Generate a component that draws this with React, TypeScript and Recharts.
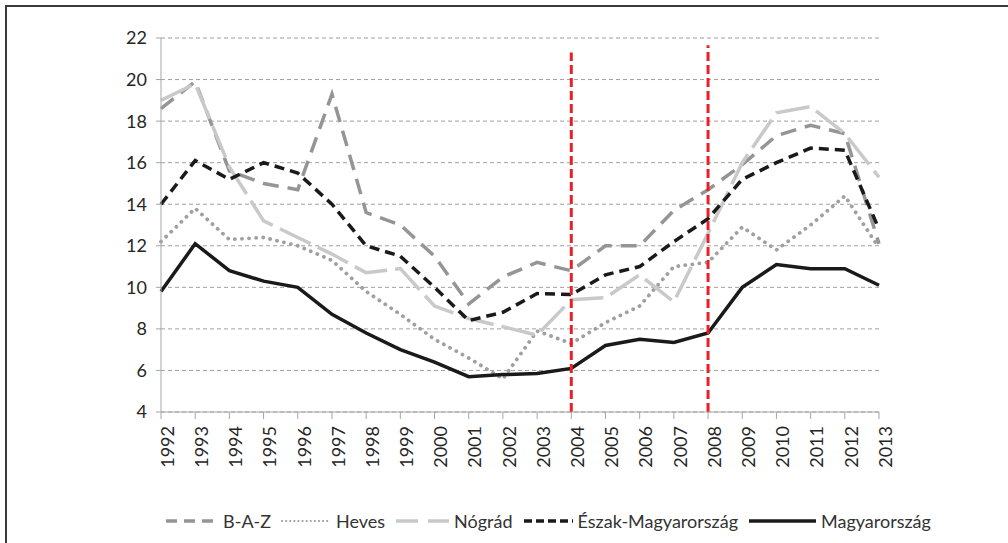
import { LineChart, Line, XAxis, YAxis, CartesianGrid, Legend, ReferenceLine } from 'recharts';

// years on the x axis
const years = [
  '1992', '1993', '1994', '1995', '1996', '1997', '1998', '1999', '2000', '2001', '2002',
  '2003', '2004', '2005', '2006', '2007', '2008', '2009', '2010', '2011', '2012', '2013',
];

const baz = [18.6, 19.9, 15.6, 15.0, 14.7, 19.3, 13.6, 13.0, 11.5, 9.2, 10.5, 11.2, 10.8, 12.0, 12.0, 13.7, 14.7, 15.9, 17.3, 17.8, 17.4, 12.1];
const heves = [12.2, 13.8, 12.3, 12.4, 12.0, 11.3, 9.8, 8.7, 7.5, 6.6, 5.6, 7.9, 7.3, 8.3, 9.1, 11.0, 11.2, 12.9, 11.8, 13.0, 14.4, 11.9];
const nograd = [19.0, 19.8, 15.8, 13.2, 12.4, 11.6, 10.7, 10.9, 9.1, 8.5, 8.1, 7.7, 9.4, 9.5, 10.6, 9.3, 12.6, 16.0, 18.4, 18.7, 17.4, 15.3];
const eszak = [14.0, 16.1, 15.2, 16.0, 15.5, 14.0, 12.0, 11.5, 10.0, 8.4, 8.8, 9.7, 9.65, 10.6, 11.0, 12.2, 13.3, 15.2, 16.0, 16.7, 16.6, 12.8];
const magyar = [9.8, 12.1, 10.8, 10.3, 10.0, 8.7, 7.8, 7.0, 6.4, 5.7, 5.8, 5.85, 6.1, 7.2, 7.5, 7.35, 7.8, 10.0, 11.1, 10.9, 10.9, 10.1];

const yTicks = [4, 6, 8, 10, 12, 14, 16, 18, 20, 22];

// series styling (chart line + legend sample)
const series = [
  { key: 'B-A-Z', stroke: '#959595', width: 3.5, dash: '16 9', cap: 'butt', legendDash: '11 7', legendW: 55 },
  { key: 'Heves', stroke: '#a0a0a0', width: 3.8, dash: '0.1 7', cap: 'round', legendDash: '0.1 4', legendW: 52 },
  { key: 'Nógrád', stroke: '#c9c9c9', width: 3.5, dash: '34 8', cap: 'butt', legendDash: '22 10', legendW: 56 },
  { key: 'Észak-Magyarország', stroke: '#1a1a1a', width: 3.5, dash: '10 6', cap: 'butt', legendDash: '8 4', legendW: 52 },
  { key: 'Magyarország', stroke: '#1a1a1a', width: 3.5, dash: undefined, cap: 'butt', legendDash: undefined, legendW: 70 },
];

const chartData = years.map((year, i) => ({
  year,
  'B-A-Z': baz[i],
  'Heves': heves[i],
  'Nógrád': nograd[i],
  'Észak-Magyarország': eszak[i],
  'Magyarország': magyar[i],
}));

const font = 'Lato, "Open Sans", sans-serif';

function LegendContent() {
  return (
    <div style={{ display: 'flex', justifyContent: 'center', alignItems: 'center', whiteSpace: 'nowrap', height: 24, fontFamily: font, fontSize: 18, color: '#333', paddingLeft: 96 }}>
      {series.map((s) => (
        <div key={s.key} style={{ display: 'flex', alignItems: 'center', marginRight: 9 }}>
          <svg width={s.legendW} height={10} style={{ marginRight: 4 }}>
            <line
              x1={2}
              y1={5}
              x2={s.legendW - 1}
              y2={5}
              stroke={s.stroke}
              strokeWidth={s.key === 'Heves' ? 2.2 : 3.5}
              strokeDasharray={s.legendDash}
              strokeLinecap={s.cap as any}
            />
          </svg>
          <span>{s.key}</span>
        </div>
      ))}
    </div>
  );
}

export default function App() {
  return (
    <div style={{ position: 'absolute', left: 0, top: 0, width: 1008, height: 543, overflow: 'hidden', background: '#fff' }}>
      <div style={{ position: 'absolute', left: 5, top: 5, width: 1020, height: 560, borderTop: '2px solid #3a3a3a', borderLeft: '2px solid #3a3a3a' }} />
      <div style={{ position: 'absolute', left: 0, top: 0 }}>
        <LineChart width={1008} height={543} data={chartData} margin={{ top: 38, right: 129, left: 121, bottom: 45 }}>
          <CartesianGrid vertical={false} stroke="#a0a0a0" strokeDasharray="4 3" />
          <XAxis
            dataKey="year"
            interval={0}
            height={62}
            stroke="#a6a6a6"
            tickSize={7}
            angle={-90}
            textAnchor="end"
            verticalAnchor="middle"
            dy={5}
            tick={{ fill: '#262626', fontSize: 18, fontFamily: font }}
          />
          <YAxis
            domain={[4, 22]}
            ticks={yTicks}
            width={40}
            stroke="#a6a6a6"
            tickSize={5}
            tickMargin={9}
            tick={{ fill: '#262626', fontSize: 18, fontFamily: font }}
          />
          <Legend
            verticalAlign="bottom"
            content={<LegendContent />}
            wrapperStyle={{ left: 0, width: 1008, height: 24, bottom: 10 }}
          />
          {series.map((s) => (
            <Line
              key={s.key}
              type="linear"
              dataKey={s.key}
              stroke={s.stroke}
              strokeWidth={s.width}
              strokeDasharray={s.dash}
              strokeLinecap={s.cap as any}
              dot={false}
              isAnimationActive={false}
            />
          ))}
          <ReferenceLine
            segment={[{ x: '2004', y: 4 }, { x: '2004', y: 21.3 }]}
            stroke="#e8202a"
            strokeWidth={3}
            strokeDasharray="9 4"
          />
          <ReferenceLine
            segment={[{ x: '2008', y: 4 }, { x: '2008', y: 21.65 }]}
            stroke="#e8202a"
            strokeWidth={3}
            strokeDasharray="9 4"
          />
        </LineChart>
      </div>
    </div>
  );
}
